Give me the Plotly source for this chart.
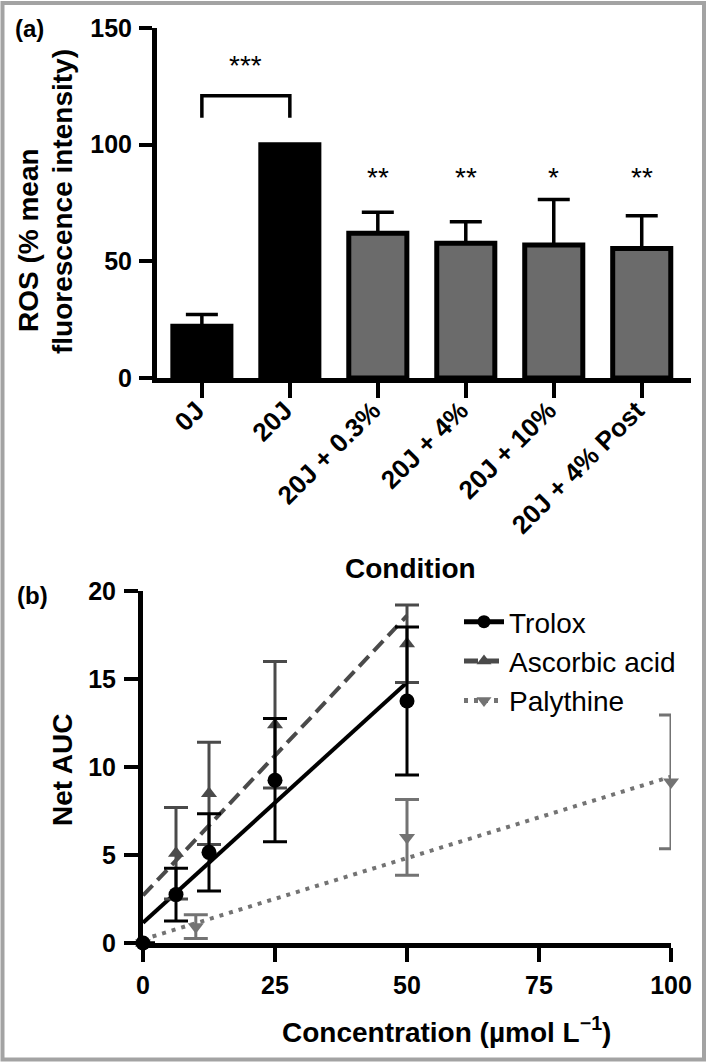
import plotly.graph_objects as go

W, H = 709, 1062

# ---------------- Panel (a) data ----------------
conditions = ["0J", "20J", "20J + 0.3%", "20J + 4%", "20J + 10%", "20J + 4% Post"]
ros_mean = [22.2, 100.0, 62.0, 57.7, 57.0, 55.5]
ros_err_up = [5.0, 0.0, 9.0, 9.3, 19.5, 14.0]
bar_fill = ["#000000", "#000000", "#6b6b6b", "#6b6b6b", "#6b6b6b", "#6b6b6b"]
sig_labels = ["**", "**", "*", "**"]
sig_x = [2, 3, 4, 5]
sig_y = 87.6
bracket_label = "***"
bracket_pos = [0, 1]
bracket_y = [111.5, 121.0]
bracket_label_y = 135.5

# ---------------- Panel (b) data ----------------
trolox_x = [0, 6.25, 12.5, 25, 50]
trolox_y = [0.0, 2.75, 5.15, 9.25, 13.75]
trolox_e = [0.0, 1.5, 2.2, 3.5, 4.2]
trolox_fit_x = [0, 50]
trolox_fit_y = [1.15, 14.8]

asc_x = [0, 6.25, 12.5, 25, 50]
asc_y = [0.0, 5.1, 8.5, 12.4, 17.0]
asc_e = [0.0, 2.6, 2.9, 3.6, 2.2]
asc_fit_x = [0, 50]
asc_fit_y = [2.7, 18.6]

paly_x = [0, 10, 50, 100]
paly_y = [0.0, 0.93, 6.0, 9.15]
paly_e = [0.0, 0.68, 2.15, 3.8]
paly_fit_x = [0, 100]
paly_fit_y = [0.2, 9.45]

C_TRO = "#000000"
C_ASC = "#4a4a4a"
C_PAL = "#737373"

FONT = "Liberation Sans, Arial, sans-serif"


def px(x):
    return x / W


def py(y):
    return 1 - y / H


fig = go.Figure()

# Panel (a) bars
fig.add_trace(go.Bar(
    x=conditions, y=ros_mean, xaxis="x", yaxis="y",
    width=0.66,
    marker=dict(color=bar_fill, line=dict(color="black", width=5)),
    error_y=dict(type="data", array=ros_err_up, arrayminus=[0] * len(ros_err_up),
                 symmetric=False, color="black", thickness=3.5, width=16),
    showlegend=False,
))

# Panel (b) fitted lines
fig.add_trace(go.Scatter(x=paly_fit_x, y=paly_fit_y, mode="lines", xaxis="x2", yaxis="y2",
                         line=dict(color=C_PAL, width=4, dash="4px,6px"), showlegend=False,
                         cliponaxis=False))
fig.add_trace(go.Scatter(x=asc_fit_x, y=asc_fit_y, mode="lines", xaxis="x2", yaxis="y2",
                         line=dict(color=C_ASC, width=4, dash="14px,7px"), showlegend=False,
                         cliponaxis=False))
fig.add_trace(go.Scatter(x=trolox_fit_x, y=trolox_fit_y, mode="lines", xaxis="x2", yaxis="y2",
                         line=dict(color=C_TRO, width=4), showlegend=False, cliponaxis=False))

# Panel (b) points with error bars
fig.add_trace(go.Scatter(x=paly_x, y=paly_y, mode="markers", xaxis="x2", yaxis="y2",
                         marker=dict(symbol="triangle-down", size=14, color=C_PAL),
                         error_y=dict(type="data", array=paly_e, color=C_PAL, thickness=3, width=12),
                         showlegend=False, cliponaxis=False))
fig.add_trace(go.Scatter(x=asc_x, y=asc_y, mode="markers", xaxis="x2", yaxis="y2",
                         marker=dict(symbol="triangle-up", size=14, color=C_ASC),
                         error_y=dict(type="data", array=asc_e, color=C_ASC, thickness=3, width=12),
                         showlegend=False, cliponaxis=False))
fig.add_trace(go.Scatter(x=trolox_x, y=trolox_y, mode="markers", xaxis="x2", yaxis="y2",
                         marker=dict(symbol="circle", size=15, color=C_TRO),
                         error_y=dict(type="data", array=trolox_e, color=C_TRO, thickness=3, width=12),
                         showlegend=False, cliponaxis=False))

# Legend entries
for name, col, sym, dash in [("Trolox", C_TRO, "circle", "solid"),
                             ("Ascorbic acid", C_ASC, "triangle-up", "14px,7px"),
                             ("Palythine", C_PAL, "triangle-down", "4px,6px")]:
    fig.add_trace(go.Scatter(x=[None], y=[None], mode="lines+markers", name=name,
                             xaxis="x2", yaxis="y2",
                             line=dict(color=col, width=5, dash=dash),
                             marker=dict(symbol=sym, size=13, color=col)))

axis_common = dict(showgrid=False, zeroline=False, showline=True, linecolor="black",
                   ticks="outside", tickcolor="black", automargin=False, fixedrange=True)
num_font = dict(family=FONT, size=25, color="black", weight="bold")

fig.update_layout(
    width=W, height=H,
    margin=dict(l=0, r=0, t=0, b=0),
    template="none",
    paper_bgcolor="white", plot_bgcolor="rgba(0,0,0,0)",
    xaxis=dict(domain=[px(157), px(691)], range=[-0.51, 5.56], anchor="y",
               linewidth=5, tickwidth=4, ticklen=15, tickangle=-45,
               ticklabelstandoff=-13, ticklabelshift=-5,
               tickfont=dict(family=FONT, size=26, color="black", weight="bold"),
               type="category", **axis_common),
    yaxis=dict(domain=[py(378), py(28)], range=[0, 150], anchor="x",
               tickvals=[0, 50, 100, 150], linewidth=5, tickwidth=4, ticklen=13,
               ticklabelstandoff=2,
               tickfont=num_font, **axis_common),
    xaxis2=dict(domain=[px(143), px(671)], range=[0, 100], anchor="y2",
                tickvals=[0, 25, 50, 75, 100], linewidth=5, tickwidth=4, ticklen=14,
                ticklabelstandoff=2,
                tickfont=num_font, **axis_common),
    yaxis2=dict(domain=[py(943), py(591)], range=[0, 20], anchor="x2",
                tickvals=[0, 5, 10, 15, 20], linewidth=5, tickwidth=4, ticklen=14,
                ticklabelstandoff=3,
                tickfont=num_font, **axis_common),
    legend=dict(x=px(459), y=py(597), xanchor="left", yanchor="top",
                bgcolor="rgba(0,0,0,0)", font=dict(family=FONT, size=28, color="black"),
                itemwidth=40, tracegroupgap=0),
    showlegend=True,
)

bold28 = dict(family=FONT, size=28, color="black", weight="bold")
ann = []
# significance annotations (a)
for xs, lab in zip(sig_x, sig_labels):
    ann.append(dict(x=xs, y=sig_y, xref="x", yref="y", text=lab, showarrow=False,
                    xanchor="center", yanchor="middle", yshift=-4,
                    font=dict(family=FONT, size=28, color="black")))
ann.append(dict(x=sum(bracket_pos) / 2, y=bracket_label_y, xref="x", yref="y", text=bracket_label,
                showarrow=False, xanchor="center", yanchor="middle", yshift=-4,
                font=dict(family=FONT, size=28, color="black")))

# titles
titles = [
    (28, 240, "ROS (% mean", -90, bold28),
    (62, 202, "fluorescence intensity)", -90, bold28),
    (62, 770, "Net AUC", -90, bold28),
    (446, 1030, "Concentration (µmol L<sup>−1</sup>)", 0, bold28),
    (410, 568, "Condition", 0, bold28),
    (30, 29, "(a)", 0, dict(family=FONT, size=24, color="black", weight="bold")),
    (32, 595, "(b)", 0, dict(family=FONT, size=24, color="black", weight="bold")),
]
for xp, yp, txt, ang, fnt in titles:
    ann.append(dict(x=px(xp), y=py(yp), xref="paper", yref="paper", text=txt, textangle=ang,
                    xanchor="center", yanchor="middle", showarrow=False, font=fnt))
fig.update_layout(annotations=ann)

shapes = [
    # bracket for 0J vs 20J
    dict(type="path", xref="x", yref="y",
         path=f"M {bracket_pos[0]},{bracket_y[0]} L {bracket_pos[0]},{bracket_y[1]} "
              f"L {bracket_pos[1]},{bracket_y[1]} L {bracket_pos[1]},{bracket_y[0]}",
         line=dict(color="black", width=3.5)),
    # outer frame
    dict(type="rect", xref="paper", yref="paper", x0=px(2.5), x1=px(704), y0=py(1059.5), y1=py(3),
         line=dict(color="#a3a3a3", width=4), fillcolor="rgba(0,0,0,0)", layer="below"),
]
fig.update_layout(shapes=shapes)

fig.write_html("out.html", config={"displayModeBar": False},
               post_script="document.body.style.margin='0px';")
